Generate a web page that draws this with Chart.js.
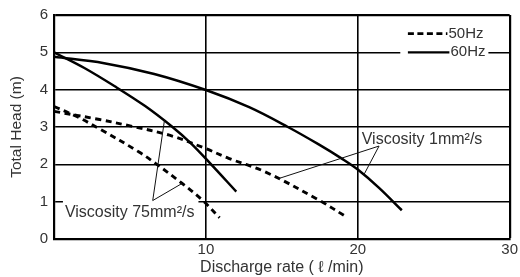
<!DOCTYPE html>
<html><head><meta charset="utf-8">
<script src="https://cdn.jsdelivr.net/npm/chart.js@4/dist/chart.umd.min.js"></script>
<style>html,body{margin:0;padding:0;background:#fff}#wrap{width:520px;height:277px}</style>
</head><body><div id="wrap"><canvas id="c" width="520" height="277"></canvas></div>
<script>
// ---- data ----
const flow60_1mm  = [0, 3.3, 6.6, 10, 12.85, 15.4, 17.4, 19, 20, 21.4, 22.9];
const head60_1mm  = [4.88, 4.71, 4.42, 3.99, 3.53, 3.0, 2.54, 2.14, 1.86, 1.37, 0.77];
const flow60_75mm = [0, 2, 4, 6, 7.8, 9, 10.3, 12];
const head60_75mm = [5.0, 4.58, 4.09, 3.56, 3.0, 2.57, 2.02, 1.27];
const flow50_1mm  = [0, 3, 5, 7.6, 10, 11.5, 13.9, 17.4, 19.3];
const head50_1mm  = [3.42, 3.2, 3.03, 2.78, 2.42, 2.16, 1.8, 1.05, 0.58];
const flow50_75mm = [0, 1.5, 3, 5.6, 6.7, 8.4, 9.8, 10.9];
const head50_75mm = [3.55, 3.28, 2.95, 2.33, 2.02, 1.5, 1.03, 0.57];

const xTickValues = [0, 10, 20, 30];
const yTickValues = [0, 1, 2, 3, 4, 5, 6];
const legendLabels = ['50Hz', '60Hz'];
const viscosityLabels = ['Viscosity 1mm\u00B2/s', 'Viscosity 75mm\u00B2/s'];
const xTitle = 'Discharge rate ( \u2113 /min)';
const yTitle = 'Total Head (m)';

// annotation anchor points (data units)
const ann1mm = {text: [20.26, 2.67], vertex: [21.4, 2.49], targets: [[14.8, 1.62], [20.4, 1.72]]};
const ann75mm = {text: [0.72, 0.72], vertex: [6.5, 1.03], targets: [[7.28, 3.2], [8.44, 1.49]]};
const legendPos = {x0: 23.3, x1: 25.9, xt: 25.97, y: [5.5, 5.0], box: [22.8, 28.6]};

const FONT = '"Liberation Sans", Arial, Helvetica, sans-serif';
const TXT = '#333';

function pts(xs, ys) { return xs.map((x, i) => ({x: x, y: ys[i]})); }

const solid = {borderColor: '#000', borderWidth: 2.5, pointRadius: 0, fill: false, tension: 0.35};
const dashed = {borderColor: '#000', borderWidth: 2.9, borderDash: [6, 4.5], pointRadius: 0, fill: false, tension: 0.35};

const overlay = {
  id: 'overlay',
  beforeDatasetsDraw(chart) {
    const ctx = chart.ctx, xs = chart.scales.x, ys = chart.scales.y;
    const px = v => xs.getPixelForValue(v), py = v => ys.getPixelForValue(v);
    ctx.save();
    ctx.font = '16px ' + FONT;
    ctx.textBaseline = 'middle';
    // 75mm text with white background
    const t75 = viscosityLabels[1];
    const w75 = ctx.measureText(t75).width;
    const tx = px(ann75mm.text[0]), ty = py(ann75mm.text[1]);
    ctx.fillStyle = '#fff';
    ctx.fillRect(tx - 2, ty - 13, w75 + 6, 24);
    ctx.fillStyle = TXT;
    ctx.fillText(t75, tx, ty);
    // 1mm text
    ctx.fillText(viscosityLabels[0], px(ann1mm.text[0]), py(ann1mm.text[1]));
    // legend
    ctx.font = '15px ' + FONT;
    const lx0 = px(legendPos.x0), lx1 = px(legendPos.x1), ltx = px(legendPos.xt);
    ctx.fillStyle = '#fff';
    ctx.fillRect(px(legendPos.box[0]), py(legendPos.y[0]) - 12, px(legendPos.box[1]) - px(legendPos.box[0]), py(legendPos.y[1]) - py(legendPos.y[0]) + 22);
    ctx.strokeStyle = '#000';
    // 50Hz dashed
    ctx.lineWidth = 2.6;
    ctx.setLineDash([6, 3.5, 6, 3.5, 6, 3.5, 6, 3.5, 1.5, 60]);
    ctx.beginPath(); ctx.moveTo(lx0, py(legendPos.y[0])); ctx.lineTo(lx1, py(legendPos.y[0])); ctx.stroke();
    // 60Hz solid
    ctx.setLineDash([]);
    ctx.lineWidth = 2.4;
    ctx.beginPath(); ctx.moveTo(lx0, py(legendPos.y[1])); ctx.lineTo(lx1 + 2, py(legendPos.y[1])); ctx.stroke();
    ctx.fillStyle = TXT;
    ctx.fillText(legendLabels[0], ltx, py(legendPos.y[0]));
    ctx.fillText(legendLabels[1], ltx + 2, py(legendPos.y[1]));
    ctx.restore();
  },
  afterDatasetsDraw(chart) {
    const ctx = chart.ctx, xs = chart.scales.x, ys = chart.scales.y;
    const px = v => xs.getPixelForValue(v), py = v => ys.getPixelForValue(v);
    ctx.save();
    ctx.strokeStyle = '#111';
    ctx.lineWidth = 1;
    [ann1mm, ann75mm].forEach(a => {
      a.targets.forEach(t => {
        ctx.beginPath();
        ctx.moveTo(px(a.vertex[0]), py(a.vertex[1]));
        ctx.lineTo(px(t[0]), py(t[1]));
        ctx.stroke();
      });
    });
    ctx.restore();
  }
};

new Chart(document.getElementById('c'), {
  type: 'line',
  data: {
    datasets: [
      Object.assign({label: '60Hz 1mm2/s', data: pts(flow60_1mm, head60_1mm)}, solid),
      Object.assign({label: '60Hz 75mm2/s', data: pts(flow60_75mm, head60_75mm)}, solid),
      Object.assign({label: '50Hz 1mm2/s', data: pts(flow50_1mm, head50_1mm)}, dashed),
      Object.assign({label: '50Hz 75mm2/s', data: pts(flow50_75mm, head50_75mm)}, dashed)
    ]
  },
  options: {
    responsive: false,
    animation: false,
    devicePixelRatio: 1,
    layout: {padding: {top: 13, right: 8.5, left: 0, bottom: 0}},
    plugins: {legend: {display: false}, tooltip: {enabled: false}},
    scales: {
      x: {
        type: 'linear', min: xTickValues[0], max: xTickValues[xTickValues.length - 1],
        afterBuildTicks: s => { s.ticks = xTickValues.map(v => ({value: v})); },
        afterFit: s => { s.height = 38; },
        ticks: {color: TXT, font: {family: FONT, size: 15}, padding: 2, maxRotation: 0,
          callback: v => v === 0 ? '' : String(v)},
        grid: {color: '#000', drawTicks: false,
          lineWidth: c => (c.tick && (c.tick.value === 30)) ? 2.2 : 1.6},
        border: {display: true, color: '#000', width: 2.2},
        title: {display: true, text: xTitle, color: TXT, font: {family: FONT, size: 16}, padding: {top: 0, bottom: 0}}
      },
      y: {
        type: 'linear', min: yTickValues[0], max: yTickValues[yTickValues.length - 1],
        afterBuildTicks: s => { s.ticks = yTickValues.map(v => ({value: v})); },
        afterFit: s => { s.width = 54; },
        ticks: {color: TXT, font: {family: FONT, size: 15}, padding: 6},
        grid: {color: '#000', drawTicks: false,
          lineWidth: c => (c.tick && (c.tick.value === 6)) ? 2.2 : 1.6},
        border: {display: true, color: '#000', width: 2.2},
        title: {display: true, text: yTitle, color: TXT, font: {family: FONT, size: 15.5}, padding: {top: 7, bottom: 0}}
      }
    }
  },
  plugins: [overlay]
});
</script>
</body></html>
